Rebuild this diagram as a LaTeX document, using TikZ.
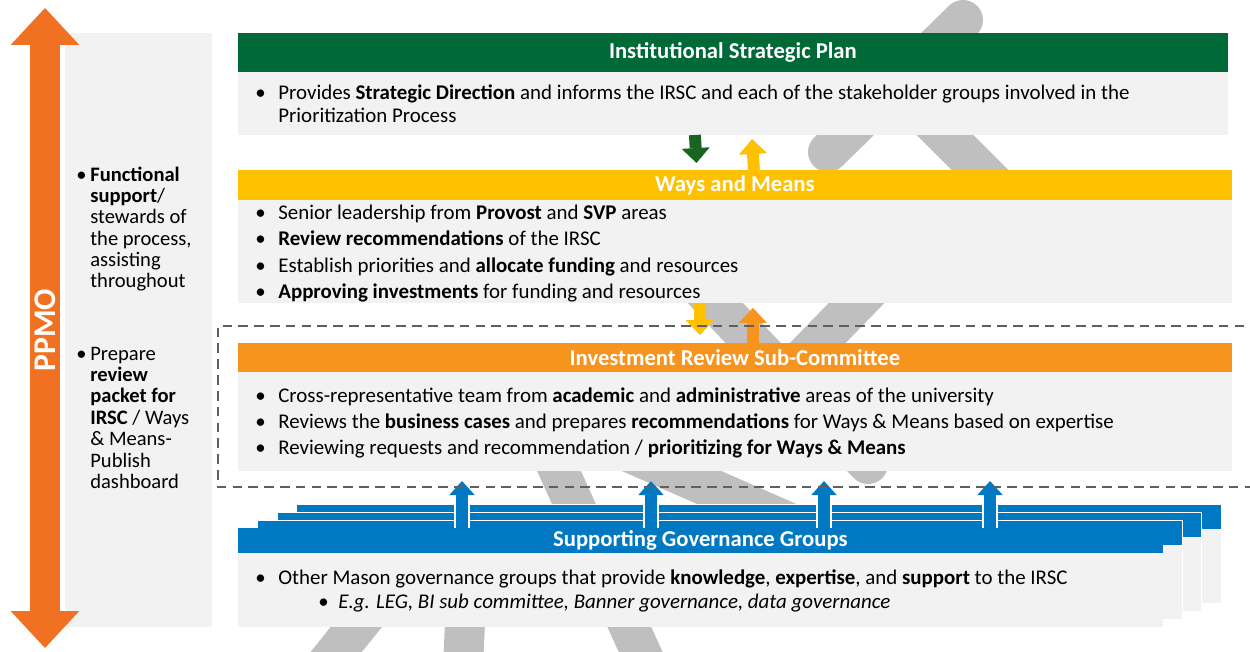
\documentclass[tikz,border=0pt]{standalone}
\usepackage{fontspec}
\setmainfont{Carlito}
\usetikzlibrary{positioning}
\usetikzlibrary{arrows.meta}

\definecolor{planGreen}{RGB}{0,105,56}
\definecolor{downGreen}{RGB}{24,100,32}
\definecolor{waysYellow}{RGB}{255,192,0}
\definecolor{irscOrange}{RGB}{247,148,30}
\definecolor{ppmoOrange}{RGB}{241,113,34}
\definecolor{govBlue}{RGB}{0,121,194}
\definecolor{panelGray}{RGB}{242,242,242}
\definecolor{bandGray}{RGB}{191,191,191}
\definecolor{dashGray}{RGB}{95,95,95}

\tikzset{
  bar/.style={anchor=north west, inner sep=0pt, outer sep=0pt, text=white, font=\bfseries\fontsize{12.9}{14}\selectfont},
  panel/.style={fill=panelGray, inner sep=0pt, outer sep=0pt},
  txt/.style={anchor=west, inner sep=0pt, yshift=-1.6pt, text height=1.5ex, text depth=.4ex, font=\fontsize{11.9}{13}\selectfont},
  sidetxt/.style={txt, font=\fontsize{11.7}{13}\selectfont},
  blockarrow/.style={line width=6.8pt, -{Triangle[length=8.5pt, width=16pt, line width=0pt]}},
}

\begin{document}
\begin{tikzpicture}[x=0.02cm, y=-0.02cm]
  \useasboundingbox (0,0) rectangle (1250,652);
  \clip (0,0) rectangle (1250,652);

  % Grey bands running behind the boxes
  \begin{scope}[draw=bandGray, line width=0.8cm, line cap=round]
    \draw (963,20) -- (828,152);
    \draw (900,90) -- (1030,220);
    \draw (908,250) -- (743,420);
    \draw (665,250) -- (868,464);
    \draw (527,400) -- (660,695);
    \draw (601,440) -- (840,545);
    \draw (378,600) -- (300,697);
    \draw (466,600) -- (462,690);
  \end{scope}

  % PPMO column on the left
  \coordinate (ppmotop) at (45,8);
  \coordinate (ppmobot) at (45,648);
  \node[panel, anchor=north west, minimum width=2.94cm, minimum height=11.88cm] (side) at (65,33) {};
  \draw[ppmoOrange, line width=17pt, {Triangle[length=21pt, width=39pt, line width=0pt]}-{Triangle[length=21pt, width=39pt, line width=0pt]}] (ppmotop) -- (ppmobot);
  \node[rotate=90, text=white, font=\bfseries\fontsize{18}{18}\selectfont] (ppmo) at (45,330) {PPMO};

  \foreach \y in {174,353}
    \node[sidetxt] at (76,\y) {•};
  \foreach \y/\txt in {174/{\textbf{Functional}}, 195/{\textbf{support}/}, 216/{stewards of}, 238/{the process,}, 259/{assisting}, 280/{throughout},
                       353/{Prepare}, 374/{\textbf{review}}, 395/{\textbf{packet for}}, 417/{\textbf{IRSC} / Ways}, 438/{\& Means-}, 460/{Publish}, 481/{dashboard}}
    \node[sidetxt] at (90,\y) {\txt};

  % Institutional Strategic Plan
  \node[bar, fill=planGreen, minimum width=19.8cm, minimum height=0.78cm] (plan) at (238,33) {Institutional Strategic Plan};
  \node[panel, minimum width=19.8cm, minimum height=1.26cm, below=0pt of plan] (planbody) {};
  \node[txt] at (278,92) {Provides \textbf{Strategic Direction} and informs the IRSC and each of the stakeholder groups involved in the};
  \node[txt] at (278,115) {Prioritization Process};

  % Ways and Means
  \node[bar, fill=waysYellow, minimum width=19.88cm, minimum height=0.6cm] (ways) at (238,170) {Ways and Means};
  \node[panel, minimum width=19.88cm, minimum height=2.06cm, below=0pt of ways] (waysbody) {};
  \foreach \y/\txt in {212/{Senior leadership from \textbf{Provost} and \textbf{SVP} areas},
                       238/{\textbf{Review recommendations} of the IRSC},
                       265/{Establish priorities and \textbf{allocate funding} and resources},
                       291/{\textbf{Approving investments} for funding and resources}}
    \node[txt] at (278,\y) {\txt};

  % Investment Review Sub-Committee
  \node[bar, fill=irscOrange, minimum width=19.88cm, minimum height=0.58cm] (irsc) at (238,343) {Investment Review Sub-Committee};
  \node[panel, minimum width=19.88cm, minimum height=1.98cm, below=0pt of irsc] (irscbody) {};
  \foreach \y/\txt in {395/{Cross-representative team from \textbf{academic} and \textbf{administrative} areas of the university},
                       421/{Reviews the \textbf{business cases} and prepares \textbf{recommendations} for Ways \& Means based on expertise},
                       447/{Reviewing requests and recommendation / \textbf{prioritizing for Ways \& Means}}}
    \node[txt] at (278,\y) {\txt};

  % Supporting governance groups, stacked cards
  \foreach \k in {3,2,1} {
    \node[bar, fill=govBlue, draw=white, line width=0.5pt, minimum width=18.5cm, minimum height=0.5cm] (back\k) at (238+19.5*\k, 528-8*\k) {};
    \node[panel, draw=white, line width=0.5pt, minimum width=18.5cm, minimum height=1.48cm, below=0pt of back\k] {};
  }
  \node[bar, fill=govBlue, minimum width=18.5cm, minimum height=0.5cm] (sgg) at (238,528) {Supporting Governance Groups};
  \node[panel, minimum width=18.5cm, minimum height=1.48cm, below=0pt of sgg] (sggbody) {};
  \node[txt] at (278,577) {Other Mason governance groups that provide \textbf{knowledge}, \textbf{expertise}, and \textbf{support} to the IRSC};
  \node[txt] at (318,601) {•};
  \node[txt] at (338,601) {\textit{E.g. LEG, BI sub committee, Banner governance, data governance}};

  \foreach \y in {92,212,238,265,291,395,421,447,577}
    \node[txt] at (255,\y) {•};

  % Arrows between the levels
  \draw[blockarrow, downGreen, shorten >=4pt] ([xshift=-0.76cm]planbody.south) -- ([xshift=-0.76cm]ways.north);
  \draw[blockarrow, waysYellow, shorten >=2.3pt] ([xshift=0.38cm]ways.north) -- ([xshift=0.38cm]planbody.south);
  \draw[blockarrow, waysYellow, shorten >=4.5pt] ([xshift=-0.7cm]waysbody.south) -- ([xshift=-0.7cm]irsc.north);
  \draw[blockarrow, irscOrange, shorten >=2.8pt] ([xshift=0.36cm]irsc.north) -- ([xshift=0.36cm]waysbody.south);

  \foreach \x [count=\i] in {462,651,824,990} {
    \coordinate (tip\i) at (\x,481);
    \draw[white, line width=8.6pt, -{Triangle[length=9pt, width=16.5pt, line width=0pt]}] (tip\i |- sgg.north) -- (tip\i);
    \draw[govBlue, line width=7pt, -{Triangle[length=8pt, width=14.5pt, line width=0pt]}] (tip\i |- sgg.north) -- (tip\i);
  }

  % Dashed frame round the sub-committee
  \draw[dashGray, line width=0.8pt, dash pattern=on 5.5pt off 3.5pt] (1260,326) -| (218,487) -- (1260,487);
\end{tikzpicture}
\end{document}
